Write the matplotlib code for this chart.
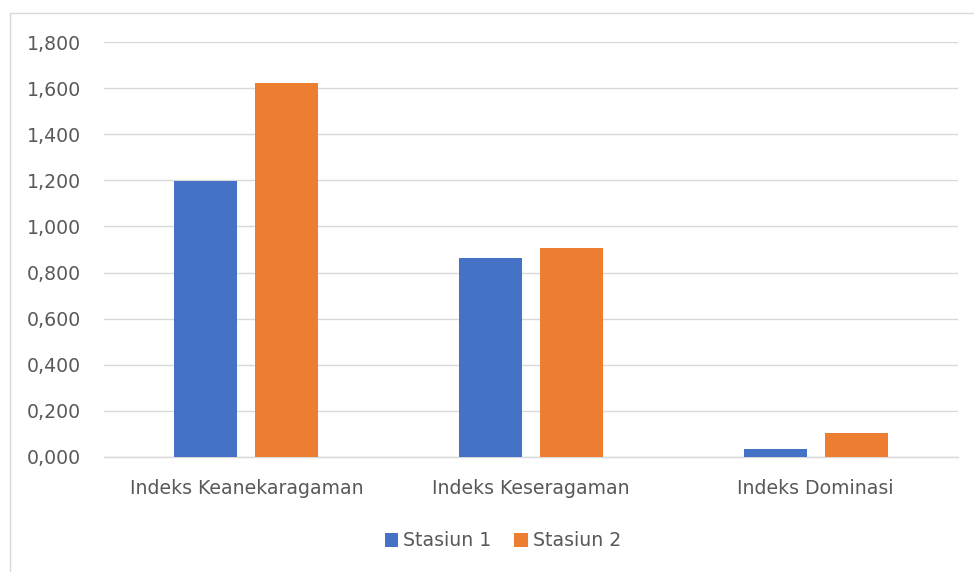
import matplotlib.pyplot as plt
import numpy as np
from matplotlib.patches import Rectangle

categories = ["Indeks Keanekaragaman", "Indeks Keseragaman", "Indeks Dominasi"]
stasiun_1 = [1.198, 0.863, 0.035]
stasiun_2 = [1.622, 0.905, 0.103]
series_names = ["Stasiun 1", "Stasiun 2"]
yticks = [0.0, 0.2, 0.4, 0.6, 0.8, 1.0, 1.2, 1.4, 1.6, 1.8]

blue = "#4472C4"
orange = "#ED7D31"
grey_txt = "#595959"
grid_col = "#D9D9D9"

plt.rcParams["font.family"] = ["DejaVu Sans"]

fig = plt.figure(figsize=(9.74, 5.72), dpi=100)
ax = fig.add_axes([104 / 974, 1 - 457 / 572, 854 / 974, 415 / 572])

# chart border like the excel frame
fig.patches.append(Rectangle((10 / 974, -0.05), 1.0, 1 - 13 / 572 + 0.05,
                             transform=fig.transFigure, fill=False,
                             edgecolor=grid_col, linewidth=1.0))

x = np.arange(len(categories))
w = 0.221
gap = 0.063
ax.bar(x - (w + gap) / 2, stasiun_1, width=w, color=blue, label=series_names[0], zorder=3)
ax.bar(x + (w + gap) / 2, stasiun_2, width=w, color=orange, label=series_names[1], zorder=3)

ax.set_xlim(-0.5, len(categories) - 0.5)
ax.set_ylim(0, 1.8)
ax.set_yticks(yticks)
ax.set_yticklabels([f"{v:.3f}".replace(".", ",") for v in yticks])
ax.set_xticks(x)
ax.set_xticklabels(categories)

ax.grid(axis="y", color=grid_col, linewidth=1.0, zorder=0)
for s in ["top", "right", "left"]:
    ax.spines[s].set_visible(False)
ax.spines["bottom"].set_color(grid_col)
ax.spines["bottom"].set_linewidth(1.0)
ax.tick_params(axis="both", length=0, labelsize=13.6, labelcolor=grey_txt)
ax.tick_params(axis="y", pad=16.5)
ax.tick_params(axis="x", pad=16)

fig.legend(loc="center", bbox_to_anchor=(503 / 974, 1 - 541 / 572), ncol=2,
           frameon=False, fontsize=13.6, labelcolor=grey_txt,
           handlelength=0.7, handleheight=0.7, handletextpad=0.3, columnspacing=1.2)

fig.savefig("out.png", dpi=100, facecolor="white")
